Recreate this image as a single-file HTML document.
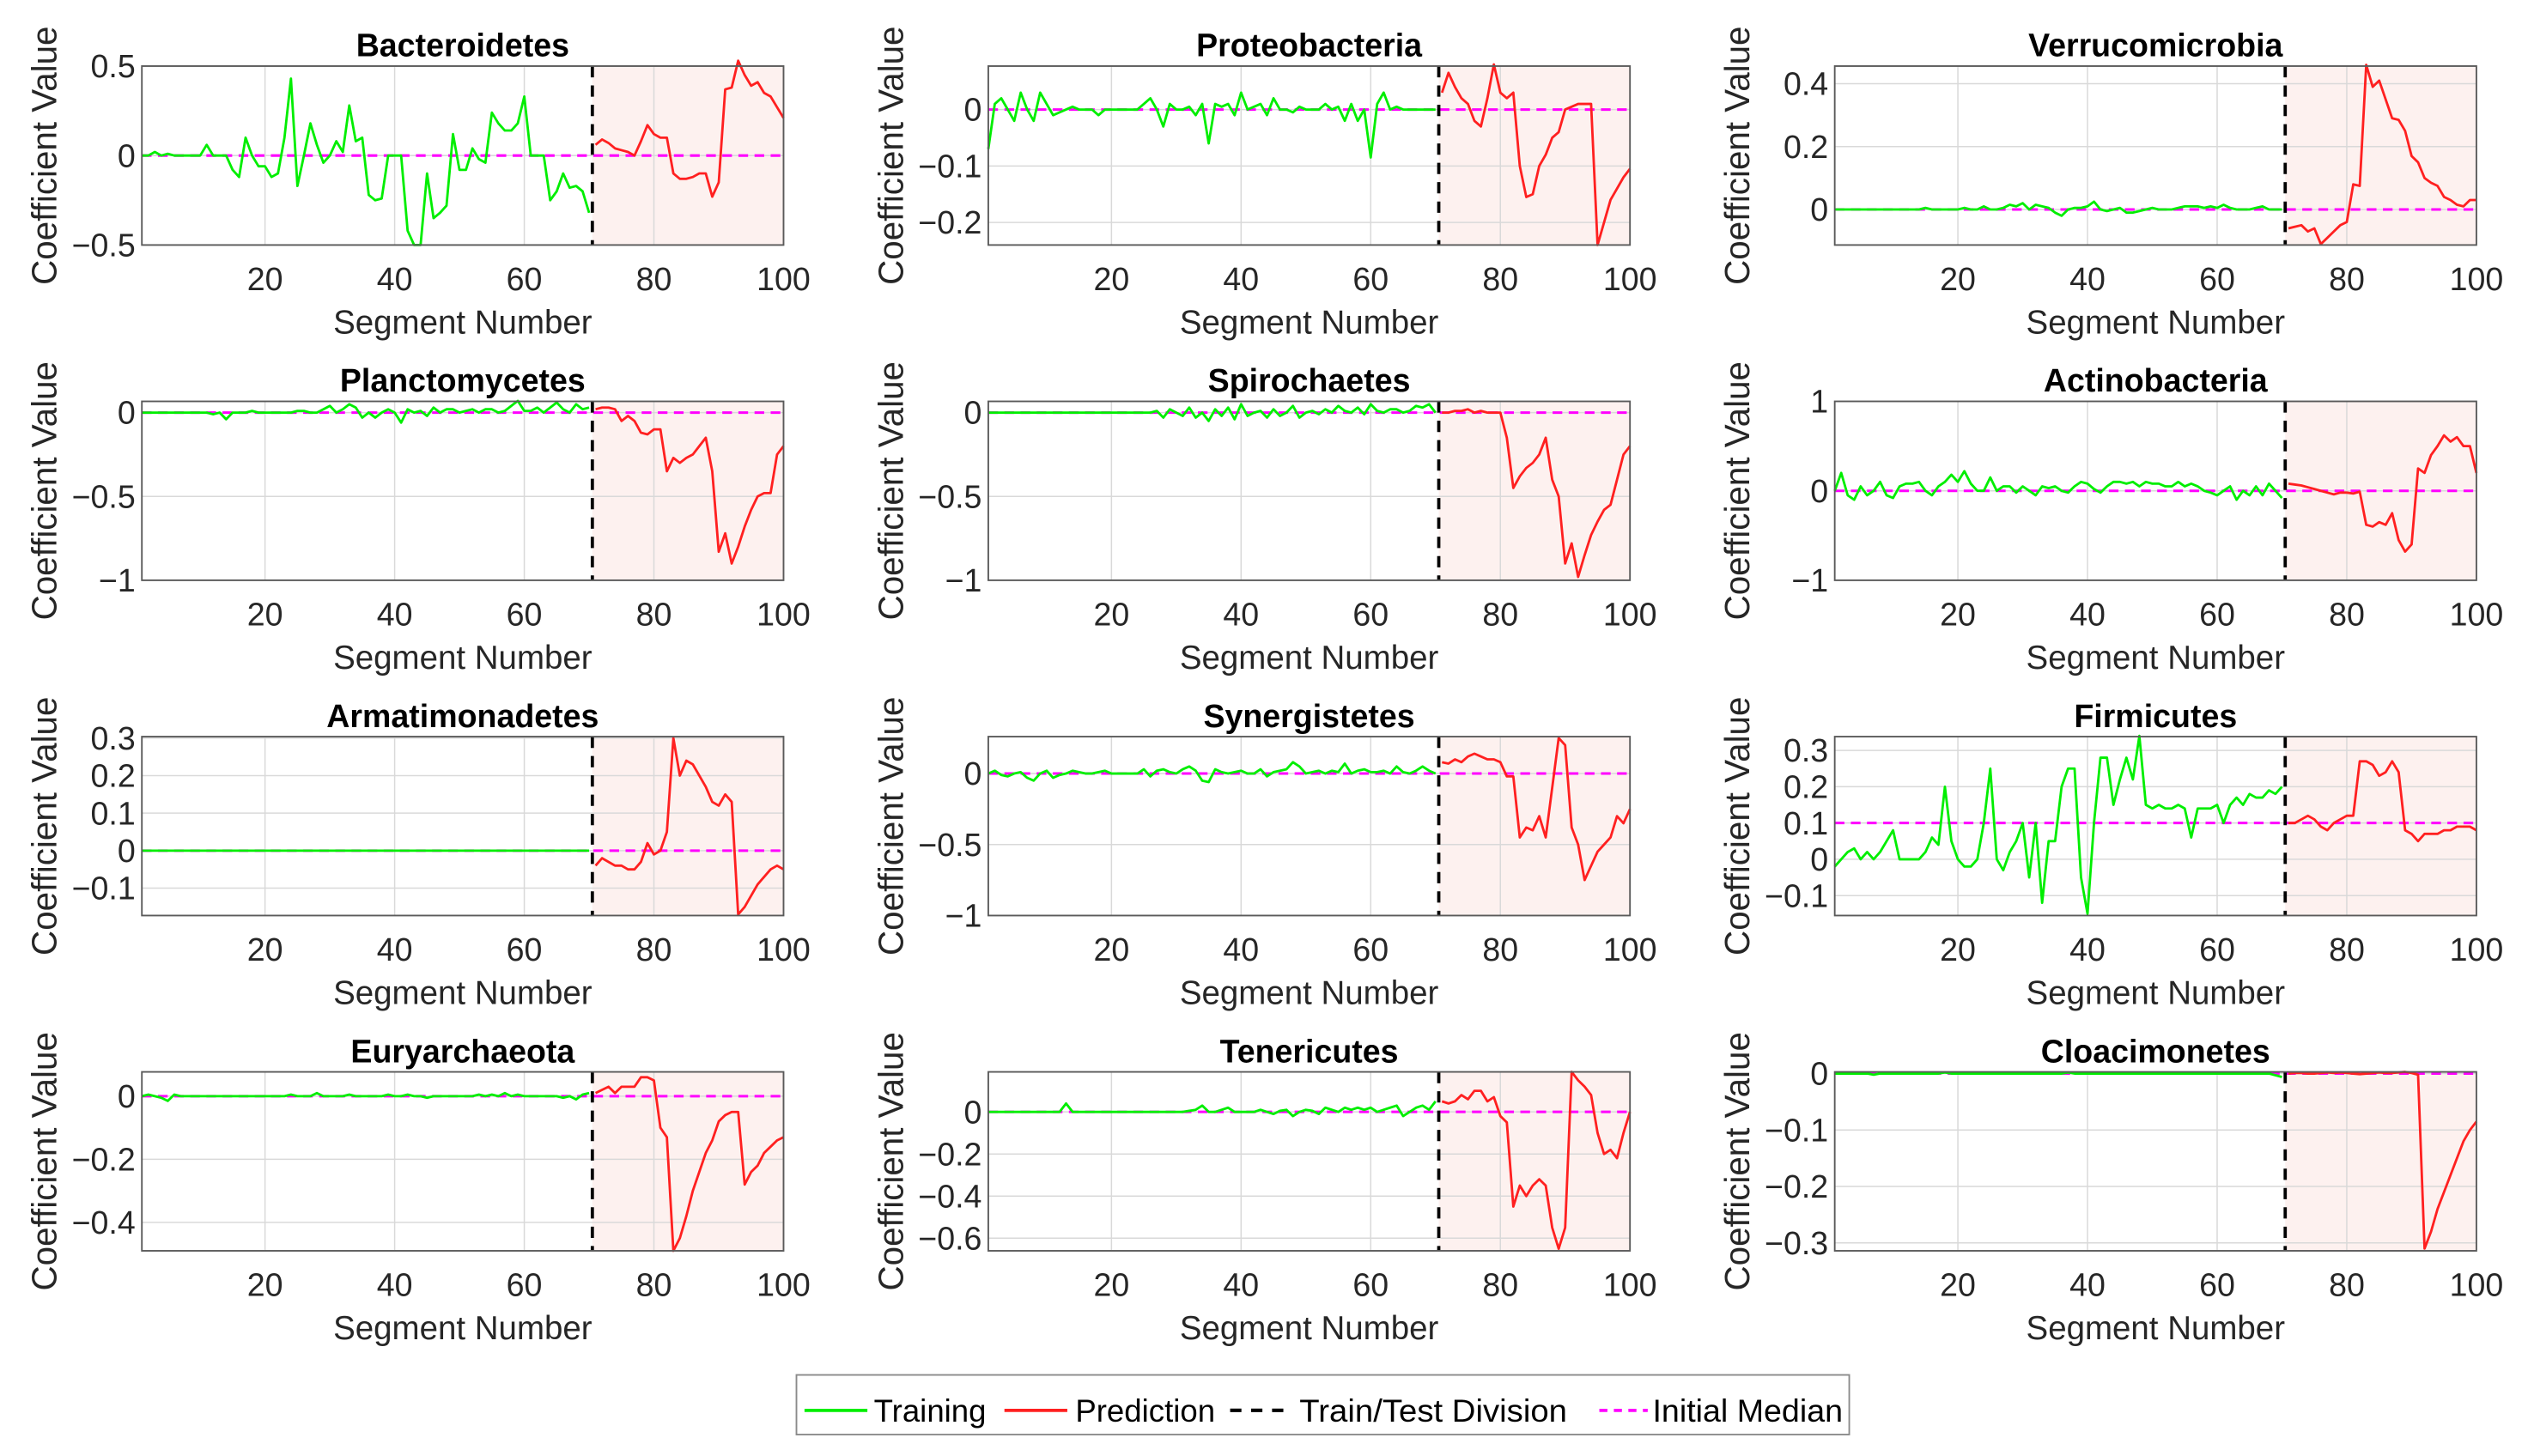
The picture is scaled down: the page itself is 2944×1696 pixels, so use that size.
<!DOCTYPE html>
<html><head><meta charset="utf-8"><style>
html,body{margin:0;padding:0;background:#fff;}
svg{display:block;font-family:"Liberation Sans",Arial,sans-serif;}
</style></head><body>
<svg id="fig" width="2944" height="1696" viewBox="0 0 1568 903.3" xmlns="http://www.w3.org/2000/svg">
<g id="panels"></g>
<g id="legend">
  <rect x="494" y="853" width="653" height="37" fill="#fff" stroke="#8a8a8a" stroke-width="1"/>
  <g>
    <line x1="499" y1="875" x2="538" y2="875" stroke="#00ee00" stroke-width="2"/>
    <text x="542" y="882" font-size="19.5">Training</text></g>
  <g>
    <line x1="623" y1="875" x2="662" y2="875" stroke="#ff2020" stroke-width="2"/>
    <text x="667" y="882" font-size="19.5">Prediction</text></g>
  <g>
    <line x1="763" y1="875" x2="797" y2="875" stroke="#000" stroke-width="2.2" stroke-dasharray="7,6"/>
    <text x="806" y="882" font-size="19.5" textLength="166" lengthAdjust="spacingAndGlyphs">Train/Test Division</text></g>
  <g>
    <line x1="992" y1="875" x2="1022" y2="875" stroke="#ff00ff" stroke-width="2" stroke-dasharray="5,4"/>
    <text x="1025" y="882" font-size="19.5" textLength="118" lengthAdjust="spacingAndGlyphs">Initial Median</text></g>
</g>
</svg>
<script>
const titles=["Bacteroidetes","Proteobacteria","Verrucomicrobia","Planctomycetes","Spirochaetes","Actinobacteria","Armatimonadetes","Synergistetes","Firmicutes","Euryarchaeota","Tenericutes","Cloacimonetes"];
const ylims=[[-0.5,0.5],[-0.24,0.077],[-0.113,0.456],[-1,0.067],[-1,0.067],[-1,1],[-0.173,0.304],[-1,0.26],[-0.155,0.338],[-0.49,0.077],[-0.66,0.19],[-0.314,0.003]];
const yticks=[[-0.5,0,0.5],[-0.2,-0.1,0],[0,0.2,0.4],[-1,-0.5,0],[-1,-0.5,0],[-1,0,1],[-0.1,0,0.1,0.2,0.3],[-1,-0.5,0],[-0.1,0,0.1,0.2,0.3],[-0.4,-0.2,0],[-0.6,-0.4,-0.2,0],[-0.3,-0.2,-0.1,0]];
const medians=[0,0,0,0,0,0,0,0,0.1,0,0,0];
const xticks=[20,40,60,80,100];
const splitPoint=70.5;
const train1=[0,0,0.02,0,0.01,0,0,0,0,0,0.06,0,0,0,-0.08,-0.12,0.1,0,-0.06,-0.06,-0.12,-0.1,0.1,0.43,-0.17,0,0.18,0.06,-0.04,0,0.08,0.02,0.28,0.08,0.1,-0.22,-0.25,-0.24,0,0,0,-0.42,-0.5,-0.5,-0.1,-0.35,-0.32,-0.28,0.12,-0.08,-0.08,0.04,-0.02,-0.04,0.24,0.18,0.14,0.14,0.18,0.33,0,0,0,-0.25,-0.2,-0.1,-0.18,-0.17,-0.2,-0.32];
const pred1=[0.06,0.09,0.07,0.04,0.03,0.02,0,0.08,0.17,0.12,0.1,0.1,-0.1,-0.13,-0.13,-0.12,-0.1,-0.1,-0.23,-0.15,0.37,0.38,0.53,0.45,0.39,0.41,0.35,0.33,0.27,0.21];
const train2=[-0.07,0.01,0.02,0,-0.02,0.03,0,-0.02,0.03,0.01,-0.01,-0.005,0,0.005,0,0,0,-0.01,0,0,0,0,0,0,0.01,0.02,0,-0.03,0.01,0,0,0.005,-0.01,0.01,-0.06,0.01,0.005,0.01,-0.01,0.03,0,0.005,0.01,-0.01,0.02,0,0,-0.005,0.005,0,0,0,0.01,0,0.005,-0.02,0.01,-0.02,0,-0.085,0.01,0.03,0,0.005,0,0,0,0,0,0];
const pred2=[0.03,0.065,0.04,0.02,0.01,-0.02,-0.03,0.02,0.08,0.03,0.02,0.03,-0.1,-0.155,-0.15,-0.1,-0.08,-0.05,-0.04,0,0.005,0.01,0.01,0.01,-0.24,-0.2,-0.16,-0.14,-0.12,-0.105];
const train3=[0,0,0,0,0,0,0,0,0,0,0,0,0,0,0.005,0,0,0,0,0,0.005,0,0,0.01,0,0,0.005,0.015,0.01,0.02,0,0.015,0.01,0.005,-0.01,-0.02,0,0.005,0.005,0.01,0.025,0,-0.005,0,0.005,-0.01,-0.01,-0.005,0,0.005,0,0,0,0.005,0.01,0.01,0.01,0.005,0.01,0.005,0.015,0.005,0,0,0,0.005,0.01,0,0,0];
const pred3=[-0.06,-0.055,-0.05,-0.07,-0.06,-0.11,-0.09,-0.07,-0.05,-0.04,0.08,0.075,0.46,0.39,0.41,0.35,0.29,0.285,0.25,0.17,0.15,0.1,0.085,0.075,0.04,0.03,0.015,0.01,0.03,0.03];
const train4=[0,0,0,0,0,0,0,0,0,0,0,-0.01,0,-0.04,0,0,0,0.01,0,0,0,0,0,0,0.01,0.01,0,0,0.02,0.04,0,0.02,0.05,0.03,-0.03,0,-0.03,0,0.02,0,-0.06,0.02,0,0.01,-0.02,0.03,0,0.02,0.02,0,0.01,0.02,0,0.02,0.02,0,0.01,0.04,0.07,0.01,0.01,0.03,0,0.03,0.06,0.02,0,0.05,0.02,0.03];
const pred4=[0.02,0.03,0.03,0.02,-0.05,-0.02,-0.05,-0.12,-0.13,-0.1,-0.1,-0.35,-0.27,-0.3,-0.27,-0.25,-0.2,-0.15,-0.35,-0.83,-0.72,-0.9,-0.8,-0.68,-0.58,-0.5,-0.48,-0.48,-0.25,-0.2];
const train5=[0,0,0,0,0,0,0,0,0,0,0,0,0,0,0,0,0,0,0,0,0,0,0,0,0,0,0.01,-0.03,0.02,0,-0.02,0.03,-0.03,0,-0.05,0.02,-0.02,0.03,-0.04,0.05,-0.02,0,0.01,-0.03,0.02,-0.02,0,0.04,-0.03,0,0.01,-0.01,0.02,0,0.04,0.01,0,0.03,-0.01,0.05,0.01,0,0.02,0.02,0,0.01,0.04,0.03,0.05,0];
const pred5=[0,0,0.01,0.01,0.02,0,0.01,0,0,0,-0.15,-0.45,-0.38,-0.33,-0.3,-0.25,-0.15,-0.4,-0.5,-0.9,-0.78,-0.98,-0.85,-0.73,-0.65,-0.58,-0.55,-0.4,-0.25,-0.2];
const train6=[0,0.2,-0.05,-0.1,0.05,-0.05,0,0.1,-0.05,-0.08,0.05,0.08,0.08,0.1,0,-0.05,0.05,0.1,0.18,0.1,0.22,0.08,0,0,0.15,0,0.05,0.05,-0.02,0.05,0,-0.05,0.05,0.03,0.05,0,-0.02,0.05,0.1,0.08,0.02,-0.02,0.05,0.1,0.1,0.08,0.1,0.05,0.1,0.08,0.08,0.05,0.05,0.1,0.05,0.08,0.05,0,-0.02,-0.05,0,0.05,-0.1,0,-0.05,0.05,-0.05,0.08,0,-0.08];
const pred6=[0.08,0.07,0.06,0.04,0.02,0,-0.02,-0.04,-0.02,-0.02,-0.03,-0.01,-0.38,-0.4,-0.35,-0.38,-0.25,-0.55,-0.68,-0.6,0.25,0.2,0.4,0.5,0.62,0.55,0.6,0.5,0.5,0.2];
const train7=[0,0,0,0,0,0,0,0,0,0,0,0,0,0,0,0,0,0,0,0,0,0,0,0,0,0,0,0,0,0,0,0,0,0,0,0,0,0,0,0,0,0,0,0,0,0,0,0,0,0,0,0,0,0,0,0,0,0,0,0,0,0,0,0,0,0,0,0,0,0];
const pred7=[-0.04,-0.02,-0.03,-0.04,-0.04,-0.05,-0.05,-0.03,0.02,-0.01,0,0.05,0.3,0.2,0.24,0.23,0.2,0.17,0.13,0.12,0.15,0.13,-0.17,-0.15,-0.12,-0.09,-0.07,-0.05,-0.04,-0.05];
const train8=[0,0.02,-0.01,-0.02,0,0.01,-0.03,-0.05,0,0.02,-0.03,-0.01,0,0.02,0.01,0,0,0.01,0.02,0,0,0,0,0,0.03,-0.02,0.02,0.03,0.01,0,0.03,0.05,0.02,-0.05,-0.06,0.03,0.01,0,0.01,0.02,0,0,0.03,-0.02,0.01,0.02,0.03,0.08,0.05,0,0.01,0.02,0,0.02,0.01,0.07,0,0.02,0.03,0.01,0.01,0.02,0,0.05,0.01,0,0.02,0.05,0.02,0];
const pred8=[0.08,0.07,0.1,0.08,0.12,0.14,0.12,0.1,0.1,0.08,-0.02,-0.02,-0.45,-0.38,-0.4,-0.3,-0.45,-0.1,0.25,0.2,-0.38,-0.5,-0.75,-0.65,-0.55,-0.5,-0.45,-0.3,-0.35,-0.25];
const train9=[-0.02,0,0.02,0.03,0,0.02,0,0.02,0.05,0.08,0,0,0,0,0.02,0.06,0.04,0.2,0.05,0,-0.02,-0.02,0,0.1,0.25,0,-0.03,0.02,0.05,0.1,-0.05,0.1,-0.12,0.05,0.05,0.2,0.25,0.25,-0.05,-0.15,0.1,0.28,0.28,0.15,0.22,0.28,0.22,0.34,0.15,0.14,0.15,0.14,0.14,0.15,0.14,0.06,0.14,0.14,0.14,0.15,0.1,0.15,0.17,0.15,0.18,0.17,0.17,0.19,0.18,0.2];
const pred9=[0.1,0.1,0.11,0.12,0.11,0.09,0.08,0.1,0.11,0.12,0.12,0.27,0.27,0.26,0.23,0.24,0.27,0.24,0.08,0.07,0.05,0.07,0.07,0.07,0.08,0.08,0.09,0.09,0.09,0.08];
const train10=[0,0.005,0,-0.005,-0.015,0.005,0,0,0,0,0,0,0,0,0,0,0,0,0,0,0,0,0,0.005,0,0,0,0.01,0,0,0,0,0.005,0,0,0,0,0,0.005,0,0,0.005,0,0,-0.005,0,0,0,0,0,0,0,0.005,0,0.005,0,0.01,0,0.005,0,0,0,0,0,0,-0.005,0,-0.01,0.005,0.01];
const pred10=[0.01,0.02,0.03,0.01,0.03,0.03,0.03,0.06,0.06,0.05,-0.1,-0.13,-0.49,-0.45,-0.38,-0.3,-0.24,-0.18,-0.14,-0.08,-0.06,-0.05,-0.05,-0.28,-0.24,-0.22,-0.18,-0.16,-0.14,-0.13];
const train11=[0,0,0,0,0,0,0,0,0,0,0,0,0.04,0,0,0,0,0,0,0,0,0,0,0,0,0,0,0,0,0,0,0.005,0.01,0.03,0,0,0.01,0.02,0,0,0,0,0.01,0,-0.01,0.005,0.01,-0.02,0,0.01,0.005,-0.01,0.02,0.01,0,0.02,0.01,0.02,0.01,0.02,0,0.01,0.02,0.03,-0.02,0,0.02,0.03,0.01,0.05];
const pred11=[0.05,0.04,0.05,0.08,0.06,0.1,0.1,0.05,0.07,-0.02,-0.05,-0.45,-0.35,-0.4,-0.35,-0.32,-0.35,-0.55,-0.65,-0.55,0.19,0.15,0.12,0.08,-0.1,-0.2,-0.18,-0.22,-0.1,0];
const train12=[0,0,0,0,0,0,-0.002,0,0,0,0,0,0,0,0,0,0,0.002,0,0,0,0,0,0,0,0,0,0,0,0,0,0,0,0,0,0,0.002,0,0,0,0,0,0,0,0,0,0,0,0,0,0,0,0,0,0,0,0,0,0,0,0,0,0,0,0,0,0,0,-0.003,-0.006];
const pred12=[0,0.001,0.001,0,0,0.001,0.002,0.001,0.002,0.001,0,-0.001,0,0.001,0.002,0.001,0.001,0.002,0.003,0.001,-0.002,-0.31,-0.28,-0.24,-0.21,-0.18,-0.15,-0.12,-0.1,-0.085];
const trains=[train1,train2,train3,train4,train5,train6,train7,train8,train9,train10,train11,train12];
const preds=[pred1,pred2,pred3,pred4,pred5,pred6,pred7,pred8,pred9,pred10,pred11,pred12];

const NS="http://www.w3.org/2000/svg";
const colL=[88,613,1138], rowT=[41,249,457,665], W=398, H=111;
const root=document.getElementById('panels');
function mk(tag,attrs,parent){const e=document.createElementNS(NS,tag);for(const k in attrs)e.setAttribute(k,attrs[k]);parent.appendChild(e);return e;}
function fmt(v){let s=String(Math.round(v*1000)/1000);if(s.startsWith('-'))s='\u2212'+s.slice(1);return s;}
titles.forEach((t,i)=>{
  const L=colL[i%3], T=rowT[Math.floor(i/3)], B=T+H, R=L+W;
  const [y0,y1]=ylims[i];
  const xs=v=>L+(v-1)/99*W;
  const ys=v=>B-(v-y0)/(y1-y0)*H;
  const g=mk('g',{},root);
  
  
  const bg=mk('rect',{x:L,y:T,width:W,height:H,fill:'#fff'},g);
  
  
  const sh=mk('rect',{x:xs(splitPoint),y:T,width:R-xs(splitPoint),height:H,fill:'#fdf1ef'},g);
  
  
  xticks.forEach(v=>{
    const gl=mk('line',{x1:xs(v),x2:xs(v),y1:T,y2:B,stroke:'#d9d9d9','stroke-width':0.8},g);
    
    
    const tl=mk('text',{x:xs(v),y:B+28,'font-size':20,'text-anchor':'middle',fill:'#262626'},g);
    
    
    tl.textContent=v;
  });
  yticks[i].forEach(v=>{
    const gl=mk('line',{x1:L,x2:R,y1:ys(v),y2:ys(v),stroke:'#d9d9d9','stroke-width':0.8},g);
    
    
    const tl=mk('text',{x:L-4,y:ys(v)+7,'font-size':20,'text-anchor':'end',fill:'#262626'},g);
    
    
    tl.textContent=fmt(v);
  });
  const med=mk('line',{x1:L,x2:R,y1:ys(medians[i]),y2:ys(medians[i]),stroke:'#ff00ff','stroke-width':1.6,'stroke-dasharray':'6,4'},g);
  
  
  const tp=trains[i].map((v,k)=>xs(k+1).toFixed(2)+','+ys(v).toFixed(2)).join(' ');
  const tr=mk('polyline',{points:tp,fill:'none',stroke:'#00ee00','stroke-width':1.5,'stroke-linejoin':'round'},g);
  
  
  const pp=preds[i].map((v,k)=>xs(k+71).toFixed(2)+','+ys(v).toFixed(2)).join(' ');
  const pr=mk('polyline',{points:pp,fill:'none',stroke:'#ff2020','stroke-width':1.5,'stroke-linejoin':'round'},g);
  
  
  const dv=mk('line',{x1:xs(splitPoint),x2:xs(splitPoint),y1:T,y2:B,stroke:'#000','stroke-width':2,'stroke-dasharray':'7,5'},g);
  
  
  const bx=mk('rect',{x:L,y:T,width:W,height:H,fill:'none',stroke:'#5a5a5a','stroke-width':1},g);
  
  
  const ti=mk('text',{x:L+W/2,y:T-6,'font-size':20,'font-weight':'bold','text-anchor':'middle',fill:'#000'},g);
  
  
  ti.textContent=t;
  const xl=mk('text',{x:L+W/2,y:B+55,'font-size':20.5,'text-anchor':'middle',fill:'#262626'},g);
  
  
  xl.textContent='Segment Number';
  const yc=T+H/2;
  const yl=mk('text',{x:L-53,y:yc,'font-size':21.5,'text-anchor':'middle',fill:'#262626',transform:'rotate(-90 '+(L-53)+' '+yc+')'},g);
  
  
  yl.textContent='Coefficient Value';
});
</script>
</body></html>
